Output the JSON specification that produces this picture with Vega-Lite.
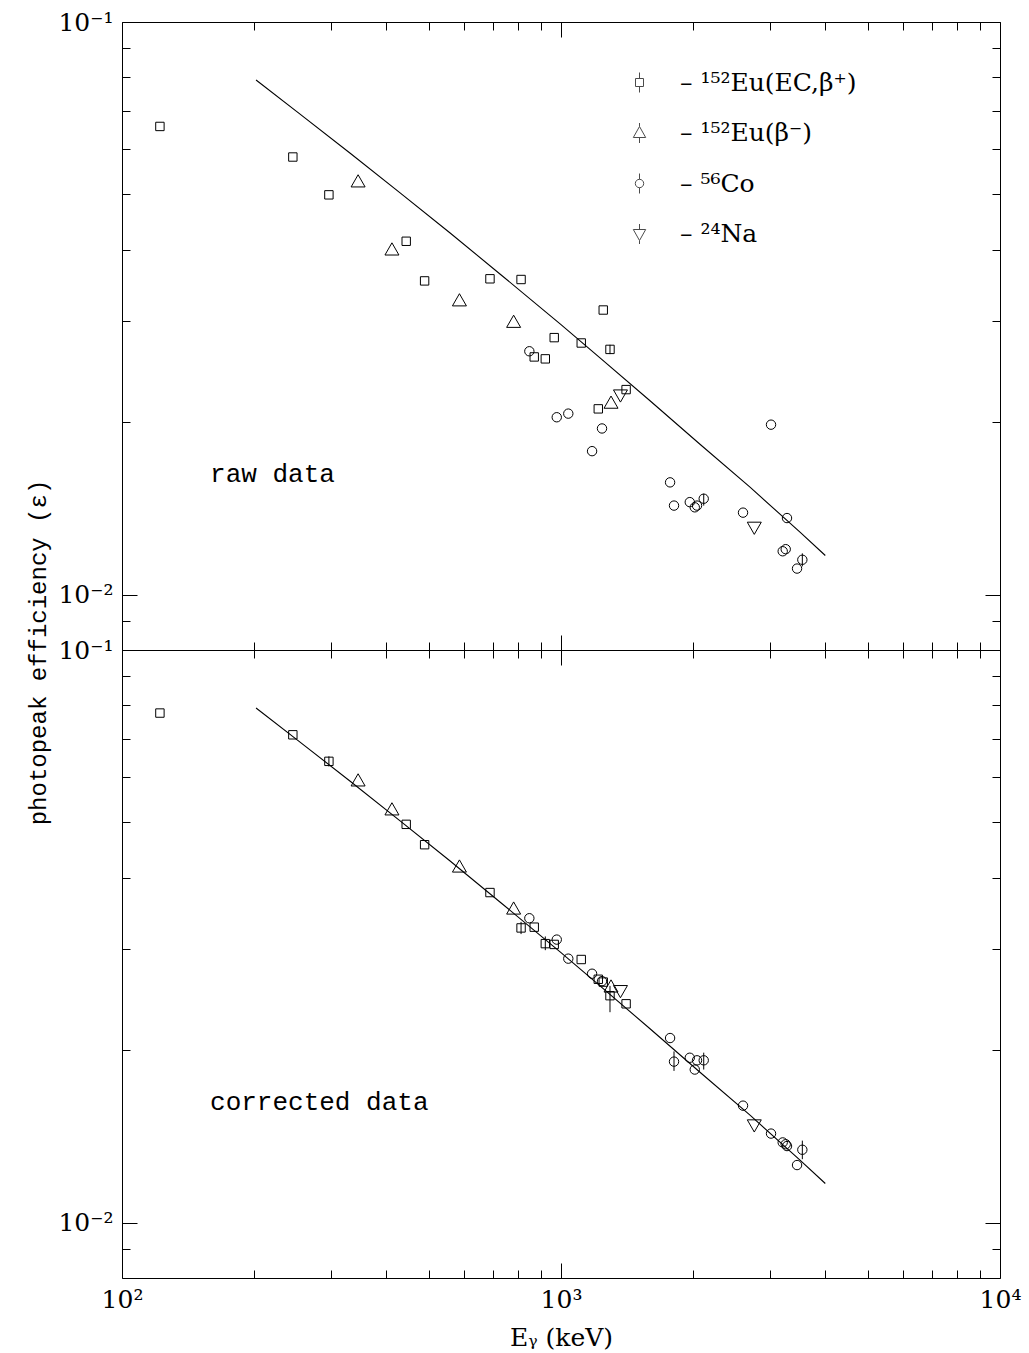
{
  "$schema": "https://vega.github.io/schema/vega-lite/v6.json",
  "padding": {"left": 26, "top": 10, "right": 5, "bottom": 5},
  "background": "white",
  "spacing": 0,
  "bounds": "flush",
  "config": {
    "view": {"stroke": null},
    "axis": {"domainColor": "black", "domainWidth": 1, "tickColor": "black", "tickWidth": 1, "grid": false, "labelColor": "black", "titleColor": "black", "labelFont": "DejaVu Serif", "labelFontSize": 25, "titleFont": "Liberation Mono", "titleFontSize": 24, "titleFontWeight": "normal", "labelFlush": false, "labelOverlap": false}
  },
  "datasets": {
    "fit": [
      {"E": 202, "eff": 0.0792}, {"E": 254, "eff": 0.0691}, {"E": 331, "eff": 0.0590},
      {"E": 430, "eff": 0.0503}, {"E": 559, "eff": 0.0428}, {"E": 726, "eff": 0.0363},
      {"E": 1000, "eff": 0.0296}, {"E": 1227, "eff": 0.0259}, {"E": 1595, "eff": 0.0218},
      {"E": 2073, "eff": 0.0183}, {"E": 2695, "eff": 0.0154}, {"E": 3503, "eff": 0.01285},
      {"E": 4000, "eff": 0.0117}
    ],
    "pts": [
      {"E":122,"raw":0.0657,"cor":0.0776,"src":"¹⁵²Eu(EC,β⁺)"},
      {"E":245,"raw":0.0581,"cor":0.0711,"src":"¹⁵²Eu(EC,β⁺)"},
      {"E":296,"raw":0.0499,"cor":0.0639,"clo":0.0626,"chi":0.0652,"src":"¹⁵²Eu(EC,β⁺)"},
      {"E":345,"raw":0.0526,"cor":0.0591,"src":"¹⁵²Eu(β⁻)"},
      {"E":412,"raw":0.0400,"cor":0.0526,"src":"¹⁵²Eu(β⁻)"},
      {"E":444,"raw":0.0414,"cor":0.0496,"src":"¹⁵²Eu(EC,β⁺)"},
      {"E":489,"raw":0.0353,"cor":0.0457,"src":"¹⁵²Eu(EC,β⁺)"},
      {"E":587,"raw":0.0326,"cor":0.0418,"src":"¹⁵²Eu(β⁻)"},
      {"E":689,"raw":0.0356,"cor":0.0377,"src":"¹⁵²Eu(EC,β⁺)"},
      {"E":780,"raw":0.0299,"cor":0.0353,"src":"¹⁵²Eu(β⁻)"},
      {"E":811,"raw":0.0355,"cor":0.0327,"clo":0.0319,"chi":0.0335,"src":"¹⁵²Eu(EC,β⁺)"},
      {"E":847,"raw":0.0266,"cor":0.0340,"src":"⁵⁶Co"},
      {"E":869,"raw":0.0260,"cor":0.0328,"src":"¹⁵²Eu(EC,β⁺)"},
      {"E":921,"raw":0.0258,"cor":0.0307,"clo":0.0299,"chi":0.0316,"src":"¹⁵²Eu(EC,β⁺)"},
      {"E":965,"raw":0.0281,"cor":0.0306,"src":"¹⁵²Eu(EC,β⁺)"},
      {"E":978,"raw":0.0204,"cor":0.0312,"src":"⁵⁶Co"},
      {"E":1039,"raw":0.0207,"cor":0.0289,"src":"⁵⁶Co"},
      {"E":1112,"raw":0.0275,"cor":0.0288,"src":"¹⁵²Eu(EC,β⁺)"},
      {"E":1177,"raw":0.0178,"cor":0.0272,"src":"⁵⁶Co"},
      {"E":1216,"raw":0.0211,"cor":0.0266,"src":"¹⁵²Eu(EC,β⁺)"},
      {"E":1240,"raw":0.0195,"cor":0.0264,"src":"⁵⁶Co"},
      {"E":1248,"raw":0.0314,"cor":0.0263,"src":"¹⁵²Eu(EC,β⁺)"},
      {"E":1293,"raw":0.0268,"rlo":0.0263,"rhi":0.0273,"cor":0.0249,"clo":0.0233,"chi":0.0259,"src":"¹⁵²Eu(EC,β⁺)"},
      {"E":1300,"raw":0.0216,"cor":0.0258,"src":"¹⁵²Eu(β⁻)"},
      {"E":1366,"raw":0.0223,"cor":0.0254,"src":"²⁴Na"},
      {"E":1407,"raw":0.0228,"cor":0.0241,"src":"¹⁵²Eu(EC,β⁺)"},
      {"E":1772,"raw":0.0157,"cor":0.0210,"src":"⁵⁶Co"},
      {"E":1809,"raw":0.0143,"cor":0.0191,"clo":0.0184,"chi":0.0199,"src":"⁵⁶Co"},
      {"E":1965,"raw":0.0145,"cor":0.0194,"src":"⁵⁶Co"},
      {"E":2017,"raw":0.0142,"cor":0.0185,"src":"⁵⁶Co"},
      {"E":2041,"raw":0.0143,"cor":0.0192,"src":"⁵⁶Co"},
      {"E":2114,"raw":0.0147,"rlo":0.0143,"rhi":0.0150,"cor":0.0192,"clo":0.0185,"chi":0.0198,"src":"⁵⁶Co"},
      {"E":2598,"raw":0.0139,"cor":0.0160,"src":"⁵⁶Co"},
      {"E":2756,"raw":0.0131,"cor":0.0148,"src":"²⁴Na"},
      {"E":3009,"raw":0.0198,"cor":0.0143,"src":"⁵⁶Co"},
      {"E":3199,"raw":0.0119,"cor":0.0138,"src":"⁵⁶Co"},
      {"E":3250,"raw":0.0120,"cor":0.0137,"src":"⁵⁶Co"},
      {"E":3272,"raw":0.0136,"cor":0.0136,"src":"⁵⁶Co"},
      {"E":3449,"raw":0.0111,"cor":0.0126,"src":"⁵⁶Co"},
      {"E":3546,"raw":0.0115,"rlo":0.0112,"rhi":0.0118,"cor":0.0134,"clo":0.0129,"chi":0.0139,"src":"⁵⁶Co"}
    ]
  },
  "vconcat": [
    {
      "width": 878, "height": 628,
      "layer": [
        {"data": {"name": "fit"}, "mark": {"type": "point", "opacity": 0},
         "encoding": {
           "x": {"field": "E", "type": "quantitative", "scale": {"type": "log", "domain": [100, 10000], "nice": false},
                 "axis": {"orient": "bottom", "values": [100,200,300,400,500,600,700,800,900,1000,2000,3000,4000,5000,6000,7000,8000,9000,10000], "labels": false, "title": null,
                          "tickSize": {"condition": {"test": "datum.value==100||datum.value==1000||datum.value==10000", "value": -15}, "value": -8}}},
           "y": {"field": "eff", "type": "quantitative", "scale": {"type": "log", "domain": [0.008, 0.1], "nice": false},
                 "axis": {"orient": "left", "values": [0.009,0.01,0.02,0.03,0.04,0.05,0.06,0.07,0.08,0.09,0.1],
                          "labelExpr": "datum.value==0.1?'10⁻¹':datum.value==0.01?'10⁻²':''", "labelPadding": 24,
                          "tickSize": {"condition": {"test": "datum.value==0.01||datum.value==0.1", "value": -15}, "value": -8},
                          "title": "photopeak efficiency (ε)", "titleX": -72, "titleY": 630, "titleBaseline": "bottom"}}
         }},
        {"data": {"name": "fit"}, "mark": {"type": "point", "opacity": 0},
         "encoding": {
           "x": {"field": "E", "type": "quantitative", "scale": {"type": "log", "domain": [100, 10000], "nice": false},
                 "axis": {"orient": "top", "values": [100,200,300,400,500,600,700,800,900,1000,2000,3000,4000,5000,6000,7000,8000,9000,10000], "labels": false, "title": null,
                          "tickSize": {"condition": {"test": "datum.value==100||datum.value==1000||datum.value==10000", "value": -15}, "value": -8}}},
           "y": {"field": "eff", "type": "quantitative", "scale": {"type": "log", "domain": [0.008, 0.1], "nice": false},
                 "axis": {"orient": "right", "values": [0.009,0.01,0.02,0.03,0.04,0.05,0.06,0.07,0.08,0.09,0.1], "labels": false, "title": null,
                          "tickSize": {"condition": {"test": "datum.value==0.01||datum.value==0.1", "value": -15}, "value": -8}}}
         }},
        {"data": {"name": "fit"}, "mark": {"type": "line", "color": "black", "strokeWidth": 1.1},
         "encoding": {
           "x": {"field": "E", "type": "quantitative", "axis": null},
           "y": {"field": "eff", "type": "quantitative", "axis": null}
         }},
        {"data": {"name": "pts"}, "transform": [{"filter": "isValid(datum.rlo)"}], "mark": {"type": "rule", "color": "black", "strokeWidth": 1},
         "encoding": {
           "x": {"field": "E", "type": "quantitative", "axis": null},
           "y": {"field": "rlo", "type": "quantitative", "axis": null},
           "y2": {"field": "rhi"}
         }},
        {"data": {"name": "pts"}, "mark": {"type": "point", "filled": false, "color": "black", "strokeWidth": 1, "size": 400, "opacity": 1},
         "encoding": {
           "x": {"field": "E", "type": "quantitative", "axis": null},
           "y": {"field": "raw", "type": "quantitative", "axis": null},
           "shape": {"field": "src", "type": "nominal",
                     "scale": {"domain": ["¹⁵²Eu(EC,β⁺)", "¹⁵²Eu(β⁻)", "⁵⁶Co", "²⁴Na"],
                               "range": ["M-0.42,-0.42H0.42V0.42H-0.42Z", "M0,-0.7L0.7,0.52H-0.7Z", "M0.47,0A0.47,0.47,0,1,1,-0.47,0A0.47,0.47,0,1,1,0.47,0Z", "M0,0.7L0.7,-0.52H-0.7Z"]},
                     "legend": null}
         }},
        {"data": {"values": [{}]}, "mark": {"type": "text", "text": "raw data", "align": "left", "baseline": "alphabetic", "font": "Liberation Mono", "fontSize": 26, "color": "black"},
         "encoding": {
           "x": {"datum": 158.7, "type": "quantitative", "axis": null},
           "y": {"datum": 0.01575, "type": "quantitative", "axis": null}
         }},
        {"data": {"name": "pts"}, "transform": [{"filter": "false"}], "mark": {"type": "point", "filled": false, "color": "black", "strokeWidth": 1, "size": 400},
         "encoding": {
           "x": {"field": "E", "type": "quantitative", "axis": null},
           "y": {"field": "raw", "type": "quantitative", "axis": null},
           "shape": {"field": "src", "type": "nominal",
                     "scale": {"domain": ["¹⁵²Eu(EC,β⁺)", "¹⁵²Eu(β⁻)", "⁵⁶Co", "²⁴Na"],
                               "range": ["M-0.4,-0.4H0.4V0.4H-0.4Z M0,-0.4V-1 M0,0.4V1", "M0,-0.65L0.62,0.45H-0.62Z M0,-0.65V-1 M0,0.45V1", "M0.42,0A0.42,0.42,0,1,1,-0.42,0A0.42,0.42,0,1,1,0.42,0Z M0,-0.42V-1 M0,0.42V1", "M0,0.65L0.62,-0.45H-0.62Z M0,0.65V1 M0,-0.45V-1"]},
                     "legend": {"title": null, "orient": "none", "legendX": 505, "legendY": 48, "padding": 0, "symbolSize": 400, "symbolStrokeWidth": 1, "symbolStrokeColor": "black", "symbolFillColor": "transparent", "labelFont": "DejaVu Serif", "labelFontSize": 25, "labelColor": "black", "labelOffset": 28, "labelLimit": 500, "rowPadding": 24.5, "labelExpr": "'–  ' + datum.label"}}
         }}
      ],
      "resolve": {"axis": {"x": "independent", "y": "independent"}, "scale": {"shape": "independent"}, "legend": {"shape": "independent"}}
    },
    {
      "width": 878, "height": 628,
      "layer": [
        {"data": {"name": "fit"}, "mark": {"type": "point", "opacity": 0},
         "encoding": {
           "x": {"field": "E", "type": "quantitative", "scale": {"type": "log", "domain": [100, 10000], "nice": false},
                 "axis": {"orient": "bottom", "values": [100,200,300,400,500,600,700,800,900,1000,2000,3000,4000,5000,6000,7000,8000,9000,10000],
                          "labelExpr": "datum.value==100?'10²':datum.value==1000?'10³':datum.value==10000?'10⁴':''", "labelPadding": 24,
                          "tickSize": {"condition": {"test": "datum.value==100||datum.value==1000||datum.value==10000", "value": -15}, "value": -8},
                          "title": "Eᵧ (keV)", "titleFont": "DejaVu Serif", "titleFontSize": 25, "titlePadding": 6}},
           "y": {"field": "eff", "type": "quantitative", "scale": {"type": "log", "domain": [0.008, 0.1], "nice": false},
                 "axis": {"orient": "left", "values": [0.009,0.01,0.02,0.03,0.04,0.05,0.06,0.07,0.08,0.09,0.1],
                          "labelExpr": "datum.value==0.1?'10⁻¹':datum.value==0.01?'10⁻²':''", "labelPadding": 24,
                          "tickSize": {"condition": {"test": "datum.value==0.01||datum.value==0.1", "value": -15}, "value": -8},
                          "title": null}}
         }},
        {"data": {"name": "fit"}, "mark": {"type": "point", "opacity": 0},
         "encoding": {
           "x": {"field": "E", "type": "quantitative", "scale": {"type": "log", "domain": [100, 10000], "nice": false},
                 "axis": {"orient": "top", "values": [100,200,300,400,500,600,700,800,900,1000,2000,3000,4000,5000,6000,7000,8000,9000,10000], "labels": false, "title": null,
                          "tickSize": {"condition": {"test": "datum.value==100||datum.value==1000||datum.value==10000", "value": -15}, "value": -8}}},
           "y": {"field": "eff", "type": "quantitative", "scale": {"type": "log", "domain": [0.008, 0.1], "nice": false},
                 "axis": {"orient": "right", "values": [0.009,0.01,0.02,0.03,0.04,0.05,0.06,0.07,0.08,0.09,0.1], "labels": false, "title": null,
                          "tickSize": {"condition": {"test": "datum.value==0.01||datum.value==0.1", "value": -15}, "value": -8}}}
         }},
        {"data": {"name": "fit"}, "mark": {"type": "line", "color": "black", "strokeWidth": 1.1},
         "encoding": {
           "x": {"field": "E", "type": "quantitative", "axis": null},
           "y": {"field": "eff", "type": "quantitative", "axis": null}
         }},
        {"data": {"name": "pts"}, "transform": [{"filter": "isValid(datum.clo)"}], "mark": {"type": "rule", "color": "black", "strokeWidth": 1},
         "encoding": {
           "x": {"field": "E", "type": "quantitative", "axis": null},
           "y": {"field": "clo", "type": "quantitative", "axis": null},
           "y2": {"field": "chi"}
         }},
        {"data": {"name": "pts"}, "mark": {"type": "point", "filled": false, "color": "black", "strokeWidth": 1, "size": 400, "opacity": 1},
         "encoding": {
           "x": {"field": "E", "type": "quantitative", "axis": null},
           "y": {"field": "cor", "type": "quantitative", "axis": null},
           "shape": {"field": "src", "type": "nominal",
                     "scale": {"domain": ["¹⁵²Eu(EC,β⁺)", "¹⁵²Eu(β⁻)", "⁵⁶Co", "²⁴Na"],
                               "range": ["M-0.42,-0.42H0.42V0.42H-0.42Z", "M0,-0.7L0.7,0.52H-0.7Z", "M0.47,0A0.47,0.47,0,1,1,-0.47,0A0.47,0.47,0,1,1,0.47,0Z", "M0,0.7L0.7,-0.52H-0.7Z"]},
                     "legend": null}
         }},
        {"data": {"values": [{}]}, "mark": {"type": "text", "text": "corrected data", "align": "left", "baseline": "alphabetic", "font": "Liberation Mono", "fontSize": 26, "color": "black"},
         "encoding": {
           "x": {"datum": 158.7, "type": "quantitative", "axis": null},
           "y": {"datum": 0.0157, "type": "quantitative", "axis": null}
         }}
      ],
      "resolve": {"axis": {"x": "independent", "y": "independent"}}
    }
  ],
  "resolve": {"scale": {"shape": "independent"}, "legend": {"shape": "independent"}}
}
